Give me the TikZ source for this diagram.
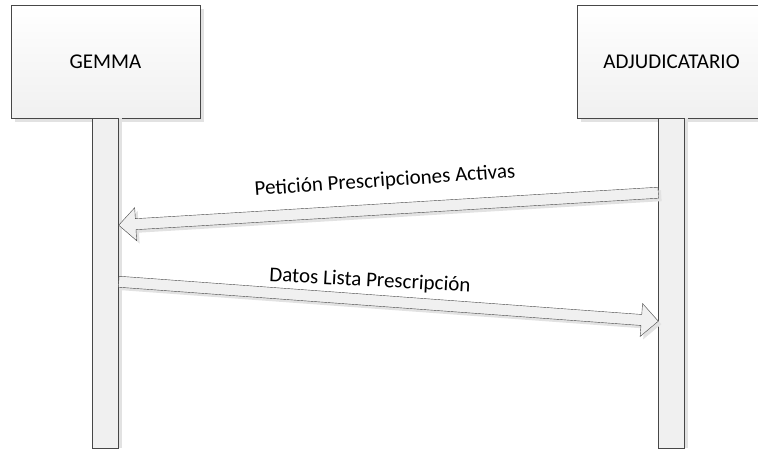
\documentclass[tikz,border=0pt]{standalone}
\usepackage{fontspec}
\setmainfont{Carlito}
\usetikzlibrary{calc,positioning,shadows}
\definecolor{edgegray}{HTML}{474747}
\definecolor{fillgray}{HTML}{F0F0F0}
\definecolor{shadegray}{HTML}{E2E2E2}
\tikzset{
  actor/.style={draw=edgegray, top color=white, bottom color=fillgray,
    minimum width=189pt, minimum height=113pt, inner sep=0pt,
    general shadow={fill=shadegray, shadow xshift=4pt, shadow yshift=-4pt}},
  lifebar/.style={draw=edgegray, fill=fillgray, minimum width=26pt,
    minimum height=330pt, inner sep=0pt,
    general shadow={fill=shadegray, shadow xshift=3pt, shadow yshift=0pt}},
  msgarrow/.style={draw=edgegray, fill=fillgray, line join=miter,
    general shadow={fill=shadegray, shadow xshift=3pt, shadow yshift=-3pt}},
}
\begin{document}
\begin{tikzpicture}[x=1pt, y=-1pt, font=\fontsize{21}{25}\selectfont]
  \useasboundingbox (0,0) rectangle (758,450);
  % ------------------------------------------------------------------ participants
  \node[actor] (gemma) at (105.5,61.5) {GEMMA};
  \node[actor] (adju) at (671.5,61.5) {ADJUDICATARIO};
  \node[lifebar, below=0pt of gemma] (gemmaBar) {};
  \node[lifebar, below=0pt of adju] (adjuBar) {};
  % ------------------------------------------------------------------ message ends on the bars
  \coordinate (pedTail) at ($(adjuBar.north west)+(0,74.5)$);
  \coordinate (pedTip)  at ($(gemmaBar.north east)+(0,107)$);
  \coordinate (datTail) at ($(gemmaBar.north east)+(0,163.5)$);
  \coordinate (datTip)  at ($(adjuBar.north west)+(0,203)$);
  % ------------------------------------------------------------------ block arrows
  \foreach \tail/\tip in {pedTail/pedTip, datTail/datTip} {
    \coordinate (back) at ($(\tip)!17pt!(\tail)$);
    \path[msgarrow] ($(\tail)!5.5pt!90:(\tip)$) -- ($(back)!5.5pt!90:(\tip)$)
      -- ($(back)!16.5pt!90:(\tip)$) -- (\tip) -- ($(back)!16.5pt!-90:(\tip)$)
      -- ($(back)!5.5pt!-90:(\tip)$) -- ($(\tail)!5.5pt!-90:(\tip)$) -- cycle;
  }
  % ------------------------------------------------------------------ labels
  \node[rotate=4] (pedLabel) at (385,181) {Petición Prescripciones Activas};
  \node[rotate=-3] (datLabel) at (370,281) {Datos Lista Prescripción};
\end{tikzpicture}
\end{document}
